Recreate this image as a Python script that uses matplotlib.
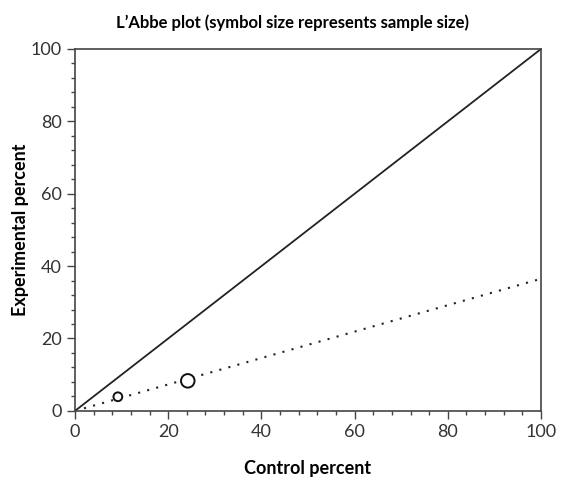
import matplotlib
matplotlib.use('Agg')
import matplotlib.pyplot as plt
import numpy as np
from matplotlib.ticker import MultipleLocator

plt.rcParams['font.family'] = ['Lato', 'DejaVu Sans']

# data
control = [9.2, 24.2]
experimental = [3.9, 8.3]
sample_size = [40, 95]  # marker area, bigger study -> bigger circle
fit_x = [0, 100]
fit_y = [0, 36.5]
ticks = [0, 20, 40, 60, 80, 100]

fig = plt.figure(figsize=(5.63, 4.8), dpi=100)
ax = fig.add_axes([0.1332, 0.144, 0.8278, 0.754])

ax.plot([0, 100], [0, 100], color='#222222', lw=1.3)
ax.plot(fit_x, fit_y, color='#222222', lw=1.5, linestyle=(0, (1, 3.5)))
ax.scatter(control, experimental, s=sample_size, facecolors='white',
           edgecolors='#111111', linewidths=1.4, zorder=3)

ax.set_xlim(0, 100)
ax.set_ylim(0, 100)
ax.set_xticks(ticks)
ax.set_yticks(ticks)
ax.xaxis.set_minor_locator(MultipleLocator(4))
ax.yaxis.set_minor_locator(MultipleLocator(4))
ax.tick_params(which='major', direction='out', length=6, width=1, colors='#444444',
               labelsize=13, labelcolor='#333333')
ax.tick_params(which='minor', direction='out', length=3, width=1, colors='#444444')
for sp in ax.spines.values():
    sp.set_color('#444444')
    sp.set_linewidth(1.2)

ax.set_xlabel('Control percent', fontsize=13, fontweight='bold', labelpad=14)
ax.set_ylabel('Experimental percent', fontsize=13, fontweight='bold', labelpad=1)
ax.set_title('L\u2019Abbe plot (symbol size represents sample size)', fontsize=12,
             fontweight='bold', pad=15, x=0.466)

fig.savefig('out.png', dpi=100)
